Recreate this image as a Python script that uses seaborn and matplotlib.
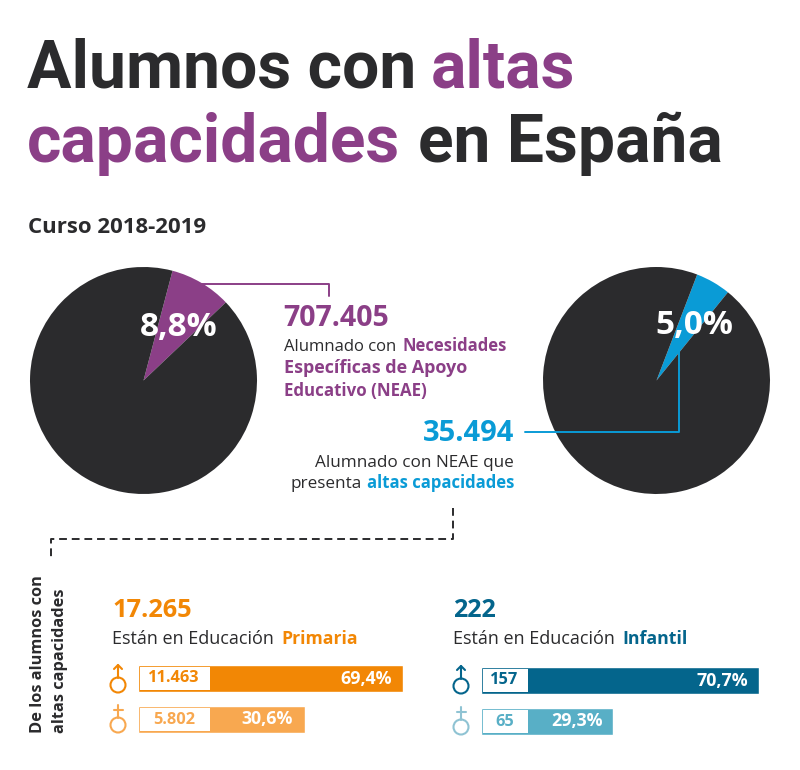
import matplotlib
matplotlib.use("Agg")
import matplotlib.pyplot as plt
import pandas as pd
import seaborn as sns
from matplotlib.patches import Circle, Rectangle

# Data
neae_share = [8.8, 91.2]
altas_share = [5.0, 95.0]
sexes = ["Hombres", "Mujeres"]
primaria_counts = ["11.463", "5.802"]
primaria_pct = [69.4, 30.6]
infantil_counts = ["157", "65"]
infantil_pct = [70.7, 29.3]

DARK = "#2b2b2d"
PURPLE = "#8b3f87"
BLUE = "#0a9bd6"
ORANGE = "#f28705"
ORANGE_LIGHT = "#f8a850"
TEAL = "#04658c"
TEAL_LIGHT = "#58afc6"

W, H = 800, 770

sns.set_theme(style="white")
plt.rcParams["font.family"] = ["Open Sans", "DejaVu Sans"]

fig = plt.figure(figsize=(W / 100, H / 100), dpi=100, facecolor="white")


def px_axes(x0, y0, x1, y1):
    # axes placed by pixel box, y measured from the top
    return fig.add_axes([x0 / W, 1 - y1 / H, (x1 - x0) / W, (y1 - y0) / H])


def draw_pie(box, values, color, start):
    ax = px_axes(*box)
    ax.pie(values, colors=[color, DARK], startangle=start, counterclock=True, radius=1,
           wedgeprops={"linewidth": 0})
    ax.set_xlim(-1, 1)
    ax.set_ylim(-1, 1)
    ax.axis("off")


def draw_bars(box, pct, base, box_units, pad, counts, color, light):
    # bars start behind the white count box, so the length is base + pct
    ax = px_axes(*box)
    df = pd.DataFrame({"sexo": sexes, "valor": [p + base for p in pct]})
    sns.barplot(data=df, x="valor", y="sexo", hue="sexo", palette=[color, light],
                width=0.66, saturation=1, legend=False, ax=ax)
    ax.set_xlim(0, pct[0] + base)
    ax.axis("off")
    for i, p in enumerate(pct):
        c = color if i == 0 else light
        ax.add_patch(Rectangle((0.7, i - 0.27), box_units - 0.7, 0.54, facecolor="white", edgecolor="none"))
        ax.text(box_units / 2, i, counts[i], color=c, ha="center", va="center",
                fontsize=11.8, fontweight="bold")
        ax.text(p + base - pad, i, f"{p:.1f}%".replace(".", ","), color="white", ha="right",
                va="center", fontsize=12.8, fontweight="bold")


draw_pie((30, 267, 257, 494), neae_share, PURPLE, 43.5)
draw_pie((543, 267, 770, 494), altas_share, BLUE, 51)
draw_bars((138, 658, 403, 740), primaria_pct, 35.1, 28.2, 4.5, primaria_counts, ORANGE, ORANGE_LIGHT)
draw_bars((481, 660, 759, 742), infantil_pct, 8.1, 13.3, 3, infantil_counts, TEAL, TEAL_LIGHT)

# Overlay in pixel coordinates for the text and connectors
ov = px_axes(0, 0, W, H)
ov.set_xlim(0, W)
ov.set_ylim(H, 0)
ov.axis("off")
ov.patch.set_alpha(0)

for x, y, s, c in [(27, 88, "Alumnos con", DARK), (431, 88, "altas", PURPLE),
                   (27, 162, "capacidades", PURPLE), (418, 162, "en España", DARK)]:
    ov.text(x, y, s, color=c, fontsize=47.5, fontweight="bold", family="Roboto", va="baseline")

ov.text(28, 233, "Curso 2018-2019", color=DARK, fontsize=16, fontweight="bold", va="baseline")

ov.text(179, 328, "8,8%", color="white", fontsize=24, fontweight="bold", ha="center", va="center")
ov.text(694, 325, "5,0%", color="white", fontsize=24, fontweight="bold", ha="center", va="center")

ov.text(283, 326, "707.405", color=PURPLE, fontsize=20.5, fontweight="bold", va="baseline")
ov.text(284, 351, "Alumnado con", color=DARK, fontsize=12, va="baseline")
ov.text(403, 351, "Necesidades", color=PURPLE, fontsize=12, fontweight="bold", va="baseline")
ov.text(284, 373, "Específicas de Apoyo", color=PURPLE, fontsize=13, fontweight="bold", va="baseline")
ov.text(284, 396, "Educativo (NEAE)", color=PURPLE, fontsize=12.2, fontweight="bold", va="baseline")

ov.text(514, 441, "35.494", color=BLUE, fontsize=21, fontweight="bold", ha="right", va="baseline")
ov.text(514, 467, "Alumnado con NEAE que", color=DARK, fontsize=12.3, ha="right", va="baseline")
ov.text(514, 488, "altas capacidades", color=BLUE, fontsize=12, fontweight="bold", ha="right", va="baseline")
ov.text(362, 488, "presenta", color=DARK, fontsize=12.3, ha="right", va="baseline")

ov.plot([190, 329, 329], [284, 284, 296], color=PURPLE, lw=1.4)
ov.plot([525, 679, 679], [432, 432, 350], color=BLUE, lw=1.4)
ov.plot([453, 453, 51, 51], [508, 539, 539, 558], color=DARK, lw=1.4, ls=(0, (4, 2.5)))

ov.text(38, 733, "De los alumnos con", color=DARK, fontsize=11.8, fontweight="bold", rotation=90,
        ha="center", va="bottom")
ov.text(60, 733, "altas capacidades", color=DARK, fontsize=11.8, fontweight="bold", rotation=90,
        ha="center", va="bottom")

ov.text(112, 617, "17.265", color=ORANGE, fontsize=18.3, fontweight="bold", va="baseline")
ov.text(112, 644, "Están en Educación", color=DARK, fontsize=13, va="baseline")
ov.text(281, 644, "Primaria", color=ORANGE, fontsize=12.7, fontweight="bold", va="baseline")
ov.text(453, 617, "222", color=TEAL, fontsize=18, fontweight="bold", va="baseline")
ov.text(453, 644, "Están en Educación", color=DARK, fontsize=13, va="baseline")
ov.text(622, 644, "Infantil", color=TEAL, fontsize=12.8, fontweight="bold", va="baseline")


def male_sign(x, y, c):
    ov.add_patch(Circle((x, y), 7.5, fill=False, edgecolor=c, lw=1.5))
    ov.plot([x, x], [y - 7.5, y - 20], color=c, lw=1.5)
    ov.plot([x - 4, x, x + 4], [y - 16, y - 20, y - 16], color=c, lw=1.5)


def female_sign(x, y, c):
    ov.add_patch(Circle((x, y), 7.5, fill=False, edgecolor=c, lw=1.5))
    ov.plot([x, x], [y - 7.5, y - 20], color=c, lw=1.5)
    ov.plot([x - 4.5, x + 4.5], [y - 15, y - 15], color=c, lw=1.5)


male_sign(118, 685, ORANGE)
female_sign(118, 725, ORANGE_LIGHT)
male_sign(461, 686, TEAL)
female_sign(461, 727, "#8fc3d3")

fig.savefig("out.png", dpi=100, facecolor="white")
